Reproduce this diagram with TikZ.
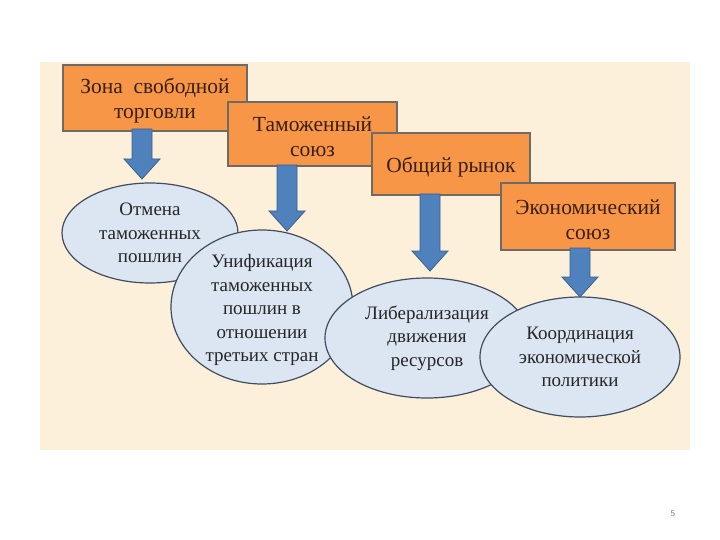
\documentclass[tikz,border=0pt]{standalone}
\usepackage{fontspec}
\setmainfont{Liberation Serif}
\usetikzlibrary{shapes.geometric,calc}
\definecolor{bgbeige}{HTML}{FCF0DA}
\definecolor{boxorange}{HTML}{F79646}
\definecolor{boxedge}{HTML}{6E6A66}
\definecolor{ellfill}{HTML}{DCE6F2}
\definecolor{elledge}{HTML}{3F4D5F}
\definecolor{arrfill}{HTML}{4F81BD}
\definecolor{arredge}{HTML}{3A5F8C}
\definecolor{txtdark}{HTML}{3A1E10}
\tikzset{
  stagebox/.style={draw=boxedge, line width=1.2pt, fill=boxorange, minimum height=#1, inner sep=0pt, align=center, text=txtdark, text height=46pt, font=\fontsize{21.5}{25}\selectfont},
  goalell/.style={ellipse, draw=elledge, line width=1.2pt, fill=ellfill, inner sep=0pt, align=center, text=black!85, font=\fontsize{19}{23.5}\selectfont},
  fatarrow/.style={fill=arrfill, draw=arredge, line width=0.8pt, line join=miter}
}
\newcommand\blockarrow[2]{%
  \path[fatarrow] let \p1=(#1), \p2=(#2) in
    (\x1-10pt,\y1) -- (\x1+10pt,\y1) -- (\x1+10pt,\y2+20pt) -- (\x1+18pt,\y2+20pt)
    -- (\x1,\y2) -- (\x1-18pt,\y2+20pt) -- (\x1-10pt,\y2+20pt) -- cycle;}
\begin{document}
\begin{tikzpicture}[x=1pt,y=-1pt]
\useasboundingbox (0,0) rectangle (720,540);
\fill[white] (0,0) rectangle (720,540);
\fill[bgbeige] (40,62) rectangle (690,450);

% ellipses
\node[goalell, minimum width=176pt, minimum height=100pt] (e1) at (150,233) {Отмена\\таможенных\\пошлин};
\node[goalell, minimum width=182pt, minimum height=154pt, text height=114pt, inner ysep=-8pt] (e2) at (262,307) {Унификация\\таможенных\\пошлин в\\отношении\\третьих стран};
\node[goalell, minimum width=204pt, minimum height=120pt] (e3) at (427,338) {Либерализация\\движения\\ресурсов};
\node[goalell, minimum width=200pt, minimum height=120pt] (e4) at (580,357) {Координация\\экономической\\политики};

% boxes
\node[stagebox=66pt, minimum width=184pt] (b1) at (155,98) {Зона \ свободной\\торговли};
\node[stagebox=64pt, minimum width=169pt] (b2) at (312.5,134) {Таможенный\\союз};
\node[stagebox=62pt, minimum width=158pt, text height=21pt] (b3) at (451,164) {Общий рынок};
\node[stagebox=67pt, minimum width=174pt] (b4) at (588,216.5) {Экономический\\союз};

% arrows
\coordinate (a1s) at (142,129); \coordinate (a1e) at (142,179);
\coordinate (a2s) at (287,165); \coordinate (a2e) at (287,231);
\coordinate (a3s) at (430,194); \coordinate (a3e) at (430,271);
\coordinate (a4s) at (580,248); \coordinate (a4e) at (580,297);
\blockarrow{a1s}{a1e}
\blockarrow{a2s}{a2e}
\blockarrow{a3s}{a3e}
\blockarrow{a4s}{a4e}

\node[text=gray, font=\fontsize{9}{10}\selectfont\sffamily] (pg) at (673,514) {5};
\end{tikzpicture}
\end{document}
